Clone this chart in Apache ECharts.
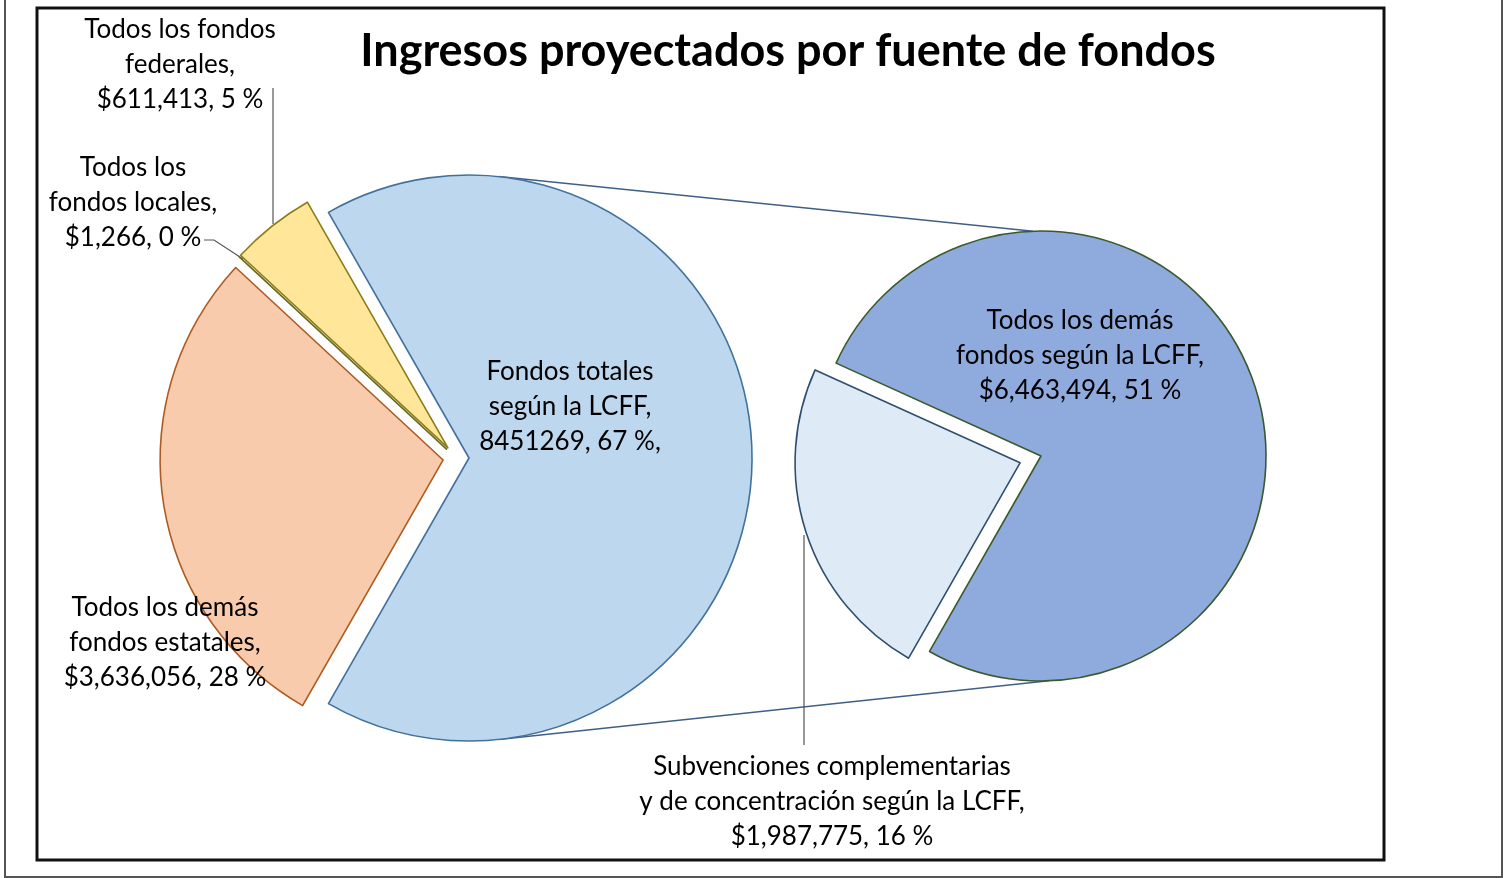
<!DOCTYPE html>
<html lang="es">
<head>
  <meta charset="UTF-8">
  <title>Ingresos proyectados por fuente de fondos</title>
  <script src="https://cdn.jsdelivr.net/npm/echarts@6/dist/echarts.min.js"></script>
  <style>
    html, body { margin: 0; padding: 0; background: #fff; }
    #main { width: 1511px; height: 878px; }
  </style>
</head>
<body>
  <div id="main"></div>
  <script>
    // main pie: LCFF first, then going round clockwise
    var mainNames = ['Fondos totales\nsegún la LCFF', 'Todos los demás\nfondos estatales', 'Todos los\nfondos locales', 'Todos los fondos\nfederales']
    var mainValues = [8451269, 3636056, 1266, 611413]
    var mainPct = [67, 28, 0, 5]

    // secondary pie: the LCFF split
    var subNames = ['Subvenciones complementarias\ny de concentración según la LCFF', 'Todos los demás\nfondos según la LCFF']
    var subValues = [1987775, 6463494]
    var subPct = [16, 51]

    var mainColors = ['#bdd7ee', '#f8cbad', '#c5e0b4', '#ffe699']
    var mainBorders = ['#41719c', '#ae5a21', '#6b6b1e', '#8a7d18']
    var subColors = ['#deebf7', '#8faadc']
    var subBorders = ['#2f4f6f', '#3b5a2c']

    // geometry
    var c1 = [456, 458], r1 = 283
    var c2 = [1041, 456], r2 = 225
    var mainExplode = [13, 13, 13, 13]
    var subExplode = [22, 0]
    var startMain = 180 * mainValues[0] / mainValues.reduce(function (a, b) { return a + b }, 0)
    var startSub = 240.3

    // label centres and leader lines
    var mainLabelPos = [[570, 407], [165, 643], [133, 203], [180, 65]]
    var mainLines = [null, null, [[204, 240], [214, 240], [243, 259]], [[273, 88], [273, 88], [273, 224]]]
    var subLabelPos = [[832, 802], [1080, 356]]
    var subLines = [[[804, 745], [804, 745], [804, 535]], null]

    var font = 'Lato, "Open Sans", sans-serif'

    function money(v) {
      return '$' + v.toLocaleString('en-US')
    }

    // centre of an exploded slice: pushed out along its bisector
    function sliceCenter(c, values, start, i, d) {
      var tot = values.reduce(function (a, b) { return a + b }, 0)
      var cum = 0
      for (var k = 0; k < i; k++) cum += values[k]
      var a = (start - (cum + values[i] / 2) / tot * 360) * Math.PI / 180
      return [c[0] + d * Math.cos(a), c[1] - d * Math.sin(a)]
    }

    // one series per slice, the other slices left transparent
    function sliceSeries(names, values, colors, borders, c, r, start, explode, labelPos, lines, fmt) {
      return names.map(function (nm, i) {
        return {
          type: 'pie',
          center: sliceCenter(c, values, start, i, explode[i]),
          radius: r,
          startAngle: start,
          silent: true,
          avoidLabelOverlap: false,
          label: {
            position: 'outside',
            fontFamily: font,
            fontSize: 26,
            lineHeight: 35,
            color: '#000',
            formatter: fmt
          },
          labelLine: { lineStyle: { color: '#555', width: 1.2 } },
          labelLayout: function (p) {
            var o = { x: labelPos[i][0], y: labelPos[i][1], align: 'center', verticalAlign: 'middle' }
            if (lines[i]) o.labelLinePoints = lines[i]
            return o
          },
          data: names.map(function (n, j) {
            var vis = i === j
            return {
              name: n,
              value: values[j],
              itemStyle: vis
                ? { color: colors[j], borderColor: borders[j], borderWidth: 1.6 }
                : { color: 'rgba(0,0,0,0)', borderWidth: 0 },
              label: { show: vis },
              labelLine: { show: vis && !!lines[j] }
            }
          })
        }
      })
    }

    var mainSeries = sliceSeries(mainNames, mainValues, mainColors, mainBorders, c1, r1, startMain, mainExplode, mainLabelPos, mainLines,
      function (p) {
        var i = p.dataIndex
        if (i === 0) return p.name + ',\n' + mainValues[i] + ', ' + mainPct[i] + ' %,'
        return p.name + ',\n' + money(mainValues[i]) + ', ' + mainPct[i] + ' %'
      })
    var subSeries = sliceSeries(subNames, subValues, subColors, subBorders, c2, r2, startSub, subExplode, subLabelPos, subLines,
      function (p) {
        var i = p.dataIndex
        return p.name + ',\n' + money(subValues[i]) + ', ' + subPct[i] + ' %'
      })

    function arcPt(c, r, deg) {
      var a = deg * Math.PI / 180
      return [c[0] + r * Math.cos(a), c[1] - r * Math.sin(a)]
    }
    var lcffC = sliceCenter(c1, mainValues, startMain, 0, mainExplode[0])
    var t1 = arcPt(lcffC, r1, 84), b1 = arcPt(lcffC, r1, -84)
    var t2 = arcPt(c2, r2, 92), b2 = arcPt(c2, r2, -88)

    var myChart = echarts.init(document.getElementById('main'))
    myChart.setOption({
      animation: false,
      title: {
        text: 'Ingresos proyectados por fuente de fondos',
        left: 783,
        top: 24,
        textAlign: 'center',
        textStyle: { fontFamily: font, fontSize: 45, fontWeight: 'bold', color: '#000' }
      },
      graphic: [
        { type: 'rect', shape: { x: 5, y: -3, width: 1497, height: 880 }, style: { fill: 'none', stroke: '#555', lineWidth: 2 } },
        { type: 'rect', shape: { x: 37, y: 8, width: 1347, height: 852 }, style: { fill: 'none', stroke: '#111', lineWidth: 3 } },
        { type: 'line', shape: { x1: t1[0], y1: t1[1], x2: t2[0], y2: t2[1] }, style: { stroke: '#3f5f86', lineWidth: 1.5 } },
        { type: 'line', shape: { x1: b1[0], y1: b1[1], x2: b2[0], y2: b2[1] }, style: { stroke: '#3f5f86', lineWidth: 1.5 } }
      ],
      series: mainSeries.concat(subSeries)
    })
  </script>
</body>
</html>
